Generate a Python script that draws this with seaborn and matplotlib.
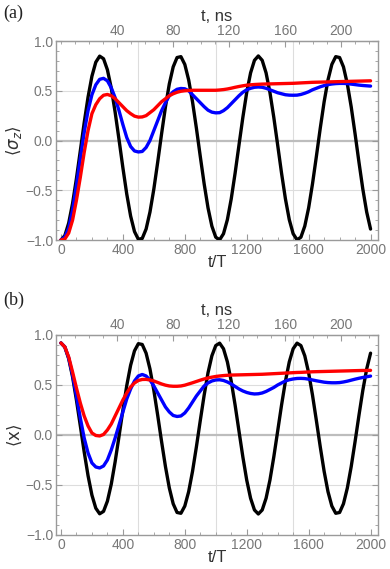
import numpy as np
import matplotlib
matplotlib.use("Agg")
import matplotlib.pyplot as plt
from matplotlib.ticker import MultipleLocator
import seaborn as sns

sns.set_style("ticks")
plt.rcParams["font.family"] = ["Liberation Sans", "DejaVu Sans"]
plt.rcParams["mathtext.fontset"] = "dejavusans"

t_T = np.arange(0, 2001, 25)

sz_black = [
    -1.000, -0.956, -0.830, -0.633, -0.382, -0.104, 0.178, 0.436, 0.646, 0.787,
    0.848, 0.822, 0.711, 0.527, 0.285, 0.010, -0.273, -0.538, -0.759, -0.915,
    -0.993, -0.984, -0.890, -0.719, -0.488, -0.217, 0.067, 0.338, 0.569, 0.740,
    0.834, 0.843, 0.765, 0.609, 0.388, 0.123, -0.160, -0.435, -0.677, -0.861,
    -0.972, -0.998, -0.937, -0.796, -0.586, -0.328, -0.046, 0.232, 0.483, 0.680,
    0.806, 0.850, 0.806, 0.680, 0.483, 0.232, -0.046, -0.328, -0.586, -0.796,
    -0.937, -0.998, -0.972, -0.861, -0.677, -0.435, -0.160, 0.123, 0.388, 0.609,
    0.765, 0.843, 0.834, 0.740, 0.569, 0.338, 0.067, -0.217, -0.488, -0.719,
    -0.890,
]
sz_blue = [
    -1.000, -0.970, -0.880, -0.700, -0.450, -0.180, 0.080, 0.300, 0.460, 0.560,
    0.615, 0.625, 0.600, 0.530, 0.430, 0.300, 0.160, 0.030, -0.060, -0.105,
    -0.115, -0.110, -0.070, 0.000, 0.100, 0.200, 0.300, 0.380, 0.450, 0.490,
    0.515, 0.523, 0.520, 0.500, 0.460, 0.420, 0.380, 0.340, 0.305, 0.285,
    0.278, 0.280, 0.300, 0.330, 0.370, 0.410, 0.450, 0.485, 0.510, 0.525,
    0.535, 0.538, 0.535, 0.525, 0.510, 0.495, 0.480, 0.470, 0.460, 0.456,
    0.455, 0.456, 0.463, 0.475, 0.490, 0.510, 0.525, 0.540, 0.552, 0.562,
    0.568, 0.572, 0.574, 0.574, 0.572, 0.567, 0.562, 0.557, 0.553, 0.550,
    0.547,
]
sz_red = [
    -1.000, -0.990, -0.930, -0.800, -0.600, -0.370, -0.120, 0.100, 0.270, 0.360,
    0.420, 0.455, 0.463, 0.450, 0.420, 0.380, 0.340, 0.300, 0.270, 0.245,
    0.235, 0.237, 0.250, 0.280, 0.310, 0.350, 0.390, 0.420, 0.450, 0.470,
    0.485, 0.495, 0.500, 0.503, 0.505, 0.505, 0.505, 0.505, 0.505, 0.505,
    0.505, 0.508, 0.512, 0.518, 0.526, 0.535, 0.543, 0.550, 0.556, 0.560,
    0.563, 0.565, 0.567, 0.568, 0.569, 0.570, 0.571, 0.572, 0.573, 0.574,
    0.575, 0.577, 0.579, 0.581, 0.583, 0.585, 0.586, 0.587, 0.588, 0.589,
    0.590, 0.591, 0.592, 0.593, 0.594, 0.595, 0.596, 0.597, 0.598, 0.599,
    0.600,
]

x_black = [
    0.920, 0.880, 0.763, 0.581, 0.349, 0.092, -0.169, -0.407, -0.601, -0.732,
    -0.788, -0.764, -0.662, -0.492, -0.268, -0.014, 0.248, 0.493, 0.697, 0.841,
    0.913, 0.905, 0.818, 0.660, 0.446, 0.196, -0.066, -0.316, -0.530, -0.688,
    -0.775, -0.783, -0.711, -0.567, -0.363, -0.118, 0.144, 0.398, 0.622, 0.792,
    0.894, 0.918, 0.862, 0.731, 0.537, 0.299, 0.039, -0.219, -0.451, -0.633,
    -0.750, -0.790, -0.750, -0.633, -0.451, -0.219, 0.039, 0.299, 0.537, 0.731,
    0.862, 0.918, 0.894, 0.792, 0.622, 0.398, 0.144, -0.118, -0.363, -0.567,
    -0.711, -0.783, -0.775, -0.688, -0.530, -0.316, -0.066, 0.196, 0.446, 0.660,
    0.818,
]
x_blue = [
    0.920, 0.880, 0.770, 0.600, 0.390, 0.170, -0.030, -0.180, -0.280, -0.320,
    -0.330, -0.310, -0.250, -0.150, -0.030, 0.100, 0.230, 0.360, 0.460, 0.540,
    0.590, 0.605, 0.590, 0.550, 0.490, 0.420, 0.350, 0.280, 0.230, 0.195,
    0.185, 0.190, 0.220, 0.270, 0.330, 0.390, 0.440, 0.490, 0.520, 0.540,
    0.550, 0.552, 0.545, 0.530, 0.510, 0.485, 0.460, 0.440, 0.425, 0.415,
    0.410, 0.412, 0.420, 0.435, 0.455, 0.475, 0.500, 0.520, 0.540, 0.552,
    0.560, 0.565, 0.566, 0.564, 0.558, 0.550, 0.542, 0.535, 0.528, 0.524,
    0.522, 0.522, 0.524, 0.530, 0.538, 0.548, 0.558, 0.567, 0.575, 0.582,
    0.589,
]
x_red = [
    0.920, 0.880, 0.780, 0.630, 0.470, 0.320, 0.190, 0.090, 0.020, -0.005,
    -0.010, 0.005, 0.050, 0.110, 0.190, 0.270, 0.350, 0.420, 0.480, 0.520,
    0.545, 0.555, 0.556, 0.550, 0.540, 0.525, 0.510, 0.498, 0.490, 0.487,
    0.487, 0.490, 0.498, 0.510, 0.522, 0.535, 0.548, 0.560, 0.570, 0.578,
    0.585, 0.590, 0.594, 0.597, 0.599, 0.600, 0.601, 0.602, 0.603, 0.604,
    0.605, 0.606, 0.607, 0.609, 0.611, 0.613, 0.615, 0.617, 0.619, 0.621,
    0.623, 0.625, 0.626, 0.628, 0.630, 0.632, 0.633, 0.634, 0.635, 0.636,
    0.637, 0.638, 0.639, 0.640, 0.641, 0.642, 0.643, 0.644, 0.645, 0.645,
    0.646,
]

y_ticks = [-1.0, -0.5, 0.0, 0.5, 1.0]
y_ticklabels = ["\u22121.0", "\u22120.5", "0.0", "0.5", "1.0"]
x_ticks = [0, 400, 800, 1200, 1600, 2000]
ns_ticks = [40, 80, 120, 160, 200]
T_PER_NS = 9.05

tick_col = "#777777"
frame_col = "#9a9a9a"
label_col = "#333333"

fig = plt.figure(figsize=(3.9, 5.69), dpi=100)
ax_a = fig.add_axes([0.1436, 0.5782, 0.8256, 0.3497])
ax_b = fig.add_axes([0.1436, 0.0598, 0.8256, 0.3515])

panels = [
    (ax_a, sz_black, sz_blue, sz_red, r"$\langle\sigma_z\rangle$", "(a)", 0.977),
    (ax_b, x_black, x_blue, x_red, r"$\langle\mathrm{x}\rangle$", "(b)", 0.472),
]

for ax, yk, yb, yr, ylab, tag, tag_y in panels:
    # grid lines like the original
    for gx in [500, 1000, 1500]:
        ax.axvline(gx, color="#dddddd", lw=0.8, zorder=0)
    for gy in [-0.5, 0.5]:
        ax.axhline(gy, color="#dddddd", lw=0.8, zorder=0)
    ax.axhline(0.0, color="#bdbdbd", lw=1.6, zorder=0)

    sns.lineplot(x=t_T, y=yk, color="black", lw=2.4, ax=ax, zorder=3)
    sns.lineplot(x=t_T, y=yb, color="#0000ff", lw=2.4, ax=ax, zorder=4)
    sns.lineplot(x=t_T, y=yr, color="#ff0000", lw=2.4, ax=ax, zorder=5)

    ax.set_xlim(-32, 2048)
    ax.set_ylim(-1.0, 1.0)
    ax.set_xticks(x_ticks)
    ax.set_yticks(y_ticks)
    ax.set_yticklabels(y_ticklabels)
    ax.xaxis.set_minor_locator(MultipleLocator(100))
    ax.yaxis.set_minor_locator(MultipleLocator(0.1))
    ax.tick_params(which="both", direction="in", colors=frame_col,
                   labelcolor=tick_col, labelsize=10, right=True, top=False)
    ax.tick_params(which="major", length=4, width=0.8, pad=2)
    ax.tick_params(which="minor", length=2, width=0.6)
    for s in ax.spines.values():
        s.set_color(frame_col)
        s.set_linewidth(1.0)

    ax.set_xlabel("t/T", fontsize=12, color=label_col, labelpad=-1)
    ax.set_ylabel(ylab, fontsize=12, color=label_col, labelpad=1)

    top = ax.secondary_xaxis("top", functions=(lambda v: v / T_PER_NS,
                                               lambda v: v * T_PER_NS))
    top.set_xticks(ns_ticks)
    top.xaxis.set_minor_locator(MultipleLocator(10))
    top.tick_params(which="both", direction="in", colors=frame_col,
                    labelcolor=tick_col, labelsize=10)
    top.tick_params(which="major", length=4, width=0.8, pad=2)
    top.tick_params(which="minor", length=2, width=0.6)
    top.spines["top"].set_color(frame_col)
    top.set_xlabel("t, ns", fontsize=12, color=label_col, labelpad=2)

    fig.text(0.008, tag_y, tag, fontsize=13, family="Liberation Serif",
             color="#222222", va="center")

fig.savefig("out.png", dpi=100)
